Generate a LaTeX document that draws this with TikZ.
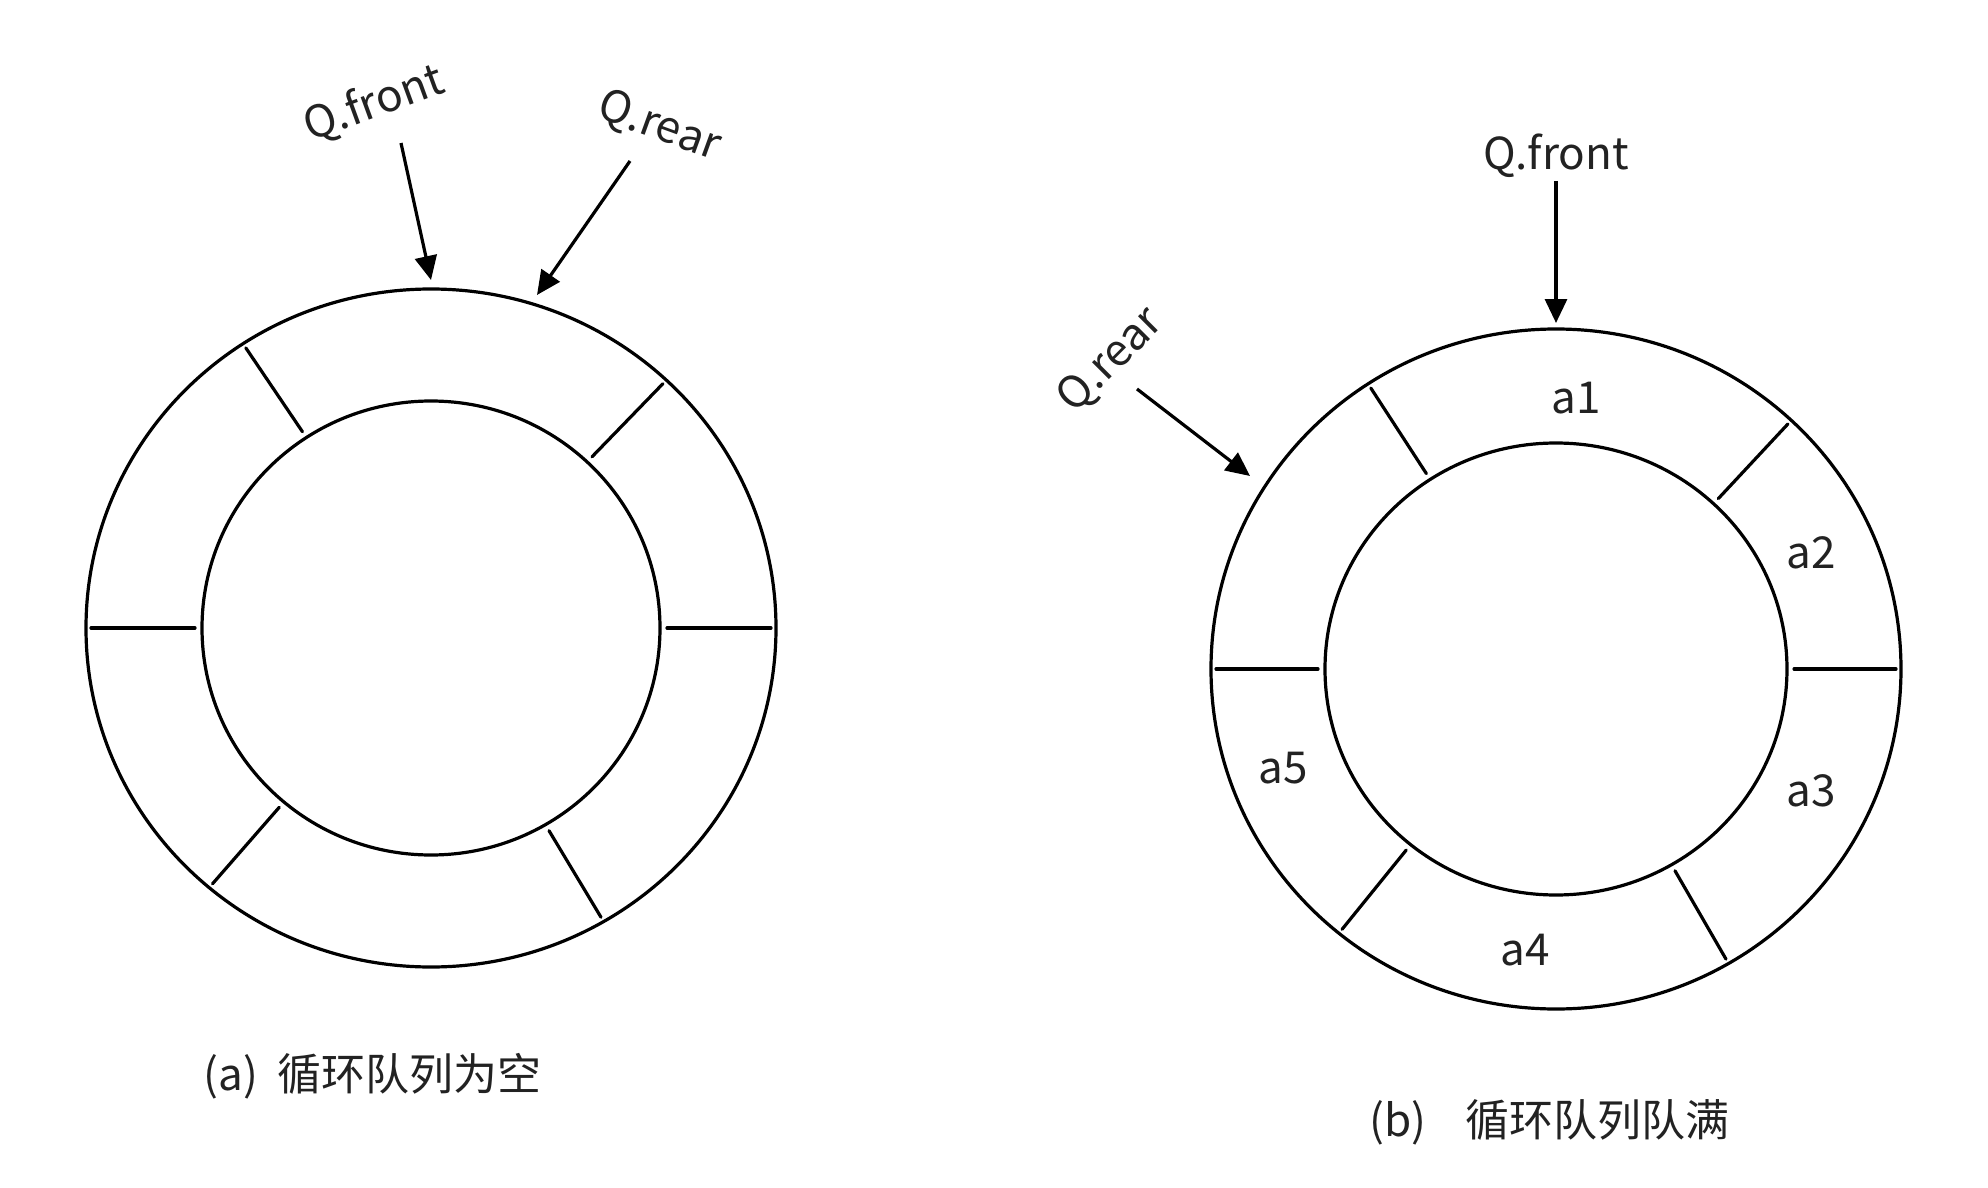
\documentclass[tikz,border=0pt]{standalone}
\usepackage{fontspec}
\setmainfont{Noto Sans CJK SC}
\usetikzlibrary{arrows.meta}
\definecolor{textc}{RGB}{34,34,34}
\tikzset{
  ring/.style={line width=1.6pt, draw=black},
  divider/.style={line width=1.6pt, draw=black, line cap=round},
  pointer/.style={line width=1.6pt, draw=black, -{Triangle[length=12pt,width=11pt]}},
  lbl/.style={text=textc, font=\fontsize{22pt}{26pt}\selectfont, inner sep=0pt},
  captxt/.style={text=textc, font=\fontsize{22pt}{26pt}\selectfont, inner sep=0pt, anchor=west}
}
\begin{document}
\begin{tikzpicture}[x=0.5pt,y=-0.5pt]
\useasboundingbox (0,0) rectangle (1988,1188);
\fill[white] (0,0) rectangle (1988,1188);

% ---------- (a) empty ----------
\def\cxA{431}\def\cyA{628}
\coordinate (cA) at (\cxA,\cyA);
\draw[ring] (cA) ellipse [x radius=172.5pt, y radius=169.5pt];
\draw[ring] (cA) ellipse [x radius=114.5pt, y radius=113.5pt];
\foreach \a in {0,47,123,180,230,300}{
  \draw[divider] ({\cxA+236*cos(\a)},{\cyA-234*sin(\a)}) -- ({\cxA+340*cos(\a)},{\cyA-334*sin(\a)});
}
\node[lbl, rotate=20] (frontA) at (374,104) {Q.front};
\node[lbl, rotate=-20] (rearA) at (659,127) {Q.rear};
\coordinate (fa0) at (401,143);
\coordinate (fa1) at (431,280);
\coordinate (ra0) at (630,161);
\coordinate (ra1) at (537,295);
\draw[pointer] (fa0) -- (fa1);
\draw[pointer] (ra0) -- (ra1);
\node[captxt] (capA) at (203,1076) {(a)\hspace{0.45em}循环队列为空};

% ---------- (b) full ----------
\def\cxB{1556}\def\cyB{669}
\coordinate (cB) at (\cxB,\cyB);
\draw[ring] (cB) ellipse [x radius=172.5pt, y radius=170pt];
\draw[ring] (cB) ellipse [x radius=115.5pt, y radius=113pt];
\foreach \a in {0,47,123,180,231,300}{
  \draw[divider] ({\cxB+238*cos(\a)},{\cyB-233*sin(\a)}) -- ({\cxB+340*cos(\a)},{\cyB-335*sin(\a)});
}
\node[lbl] (a1) at (1576,398) {a1};
\node[lbl] (a2) at (1811,553) {a2};
\node[lbl] (a3) at (1811,791) {a3};
\node[lbl] (a4) at (1525,950) {a4};
\node[lbl] (a5) at (1283,768) {a5};
\node[lbl] (frontB) at (1556,156) {Q.front};
\node[lbl, rotate=45] (rearB) at (1111,361) {Q.rear};
\coordinate (fb0) at (1556,181);
\coordinate (fb1) at (1556,323);
\coordinate (rb0) at (1137,389);
\coordinate (rb1) at (1250,476);
\draw[pointer] (fb0) -- (fb1);
\draw[pointer] (rb0) -- (rb1);
\node[captxt] (capB) at (1369,1122) {(b)\hspace{0.9em}循环队列队满};
\end{tikzpicture}
\end{document}
